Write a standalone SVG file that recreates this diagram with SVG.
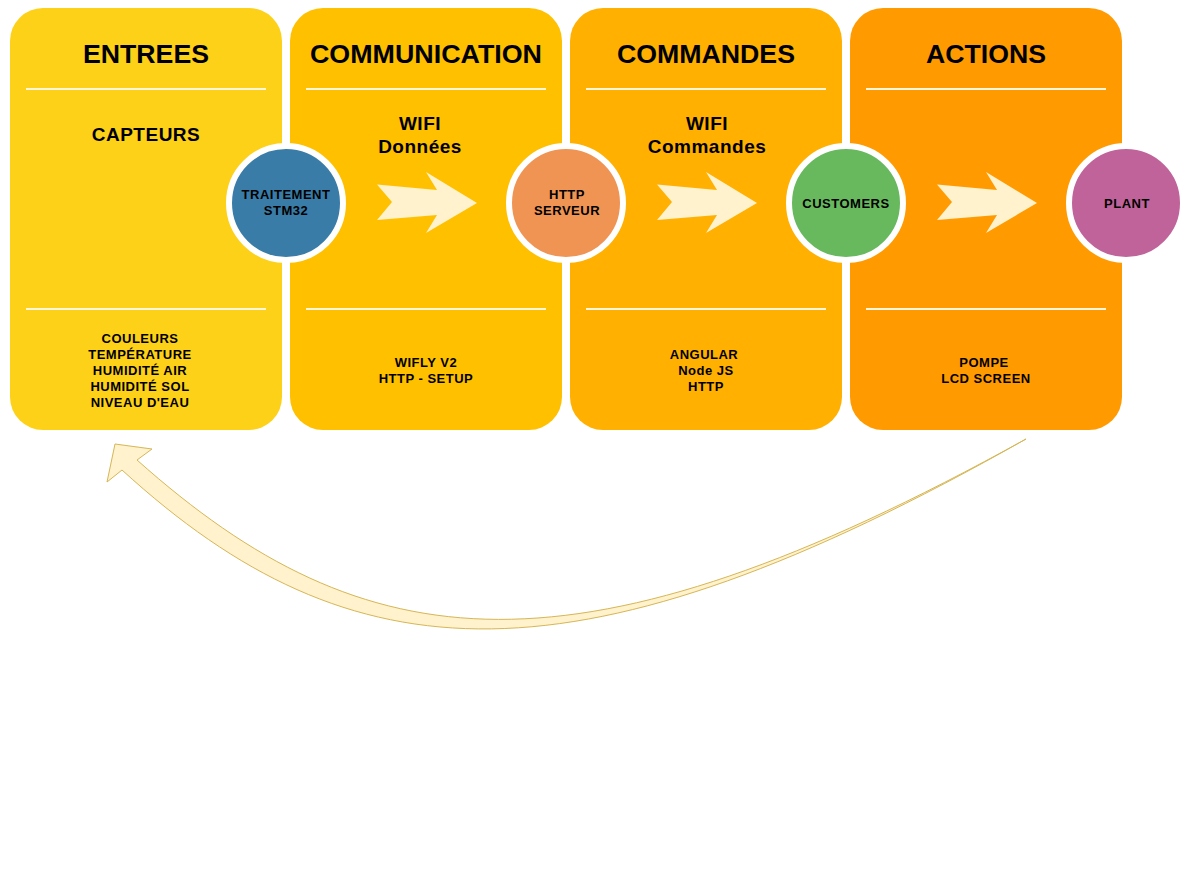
<svg xmlns="http://www.w3.org/2000/svg" xmlns:xlink="http://www.w3.org/1999/xlink" width="1188" height="885" viewBox="0 0 1188 885">
<style>
text{font-family:"Liberation Sans",Arial,sans-serif;font-weight:bold;fill:#000;text-anchor:middle}
.title{font-size:25px}
.sub{font-size:19px;letter-spacing:0.5px}
.body{font-size:13px;letter-spacing:0.5px}
.sep{stroke:#FFF6DC;stroke-width:2}
.ring{stroke:#fff;stroke-width:6}
.blk{fill:#FFF2CC}
</style>
<defs>
<polygon id="blockArrow" class="blk" points="377,184.5 437,190 426,172 477,203 426,233 437,215 377,220 392,202"/>
</defs>
<rect width="1188" height="885" fill="#fff"/>
<g id="entrees">
<rect x="10" y="8" width="272" height="422" rx="33" fill="#FDD118"/>
<text class="title" x="146" y="63" textLength="126" lengthAdjust="spacingAndGlyphs">ENTREES</text>
<line class="sep" x1="26" y1="89" x2="266" y2="89"/>
<text class="sub" x="146" y="141">CAPTEURS</text>
<line class="sep" x1="26" y1="309" x2="266" y2="309"/>
<text class="body" x="140" y="343">COULEURS</text>
<text class="body" x="140" y="359">TEMPÉRATURE</text>
<text class="body" x="140" y="375">HUMIDITÉ AIR</text>
<text class="body" x="140" y="391">HUMIDITÉ SOL</text>
<text class="body" x="140" y="407">NIVEAU D'EAU</text>
</g>
<g id="communication">
<rect x="290" y="8" width="272" height="422" rx="33" fill="#FFC000"/>
<text class="title" x="426" y="63" textLength="232" lengthAdjust="spacingAndGlyphs">COMMUNICATION</text>
<line class="sep" x1="306" y1="89" x2="546" y2="89"/>
<text class="sub" x="420" y="130">WIFI</text>
<text class="sub" x="420" y="153">Données</text>
<line class="sep" x1="306" y1="309" x2="546" y2="309"/>
<text class="body" x="426" y="367">WIFLY V2</text>
<text class="body" x="426" y="383">HTTP - SETUP</text>
</g>
<g id="commandes">
<rect x="570" y="8" width="272" height="422" rx="33" fill="#FFB000"/>
<text class="title" x="706" y="63" textLength="178" lengthAdjust="spacingAndGlyphs">COMMANDES</text>
<line class="sep" x1="586" y1="89" x2="826" y2="89"/>
<text class="sub" x="707" y="130">WIFI</text>
<text class="sub" x="707" y="153">Commandes</text>
<line class="sep" x1="586" y1="309" x2="826" y2="309"/>
<text class="body" x="704" y="359">ANGULAR</text>
<text class="body" x="706" y="375">Node JS</text>
<text class="body" x="706" y="391">HTTP</text>
</g>
<g id="actions">
<rect x="850" y="8" width="272" height="422" rx="33" fill="#FF9B00"/>
<text class="title" x="986" y="63" textLength="120" lengthAdjust="spacingAndGlyphs">ACTIONS</text>
<line class="sep" x1="866" y1="89" x2="1106" y2="89"/>
<line class="sep" x1="866" y1="309" x2="1106" y2="309"/>
<text class="body" x="984" y="367">POMPE</text>
<text class="body" x="986" y="383">LCD SCREEN</text>
</g>
<g id="connectors">
<use xlink:href="#blockArrow" href="#blockArrow"/>
<use xlink:href="#blockArrow" href="#blockArrow" transform="translate(280,0)"/>
<use xlink:href="#blockArrow" href="#blockArrow" transform="translate(560,0)"/>
<path d="M122,470 C352,680 576,694 1026,439 C576,688 366,664 137,460 L152,449 L115,444 L107,482 Z" fill="#FFF2CC" stroke="#D6B656" stroke-width="1" stroke-linejoin="miter"/>
</g>
<g id="traitement">
<circle class="ring" cx="286" cy="203" r="57" fill="#3A7CA8"/>
<text class="body" x="286" y="199">TRAITEMENT</text>
<text class="body" x="286" y="215">STM32</text>
</g>
<g id="http-serveur">
<circle class="ring" cx="566" cy="203" r="57" fill="#EF9453"/>
<text class="body" x="567" y="199">HTTP</text>
<text class="body" x="567" y="215">SERVEUR</text>
</g>
<g id="customers">
<circle class="ring" cx="846" cy="203" r="57" fill="#68B95E"/>
<text class="body" x="846" y="208">CUSTOMERS</text>
</g>
<g id="plant">
<circle class="ring" cx="1126" cy="203" r="57" fill="#C0639A"/>
<text class="body" x="1127" y="208">PLANT</text>
</g>
</svg>
